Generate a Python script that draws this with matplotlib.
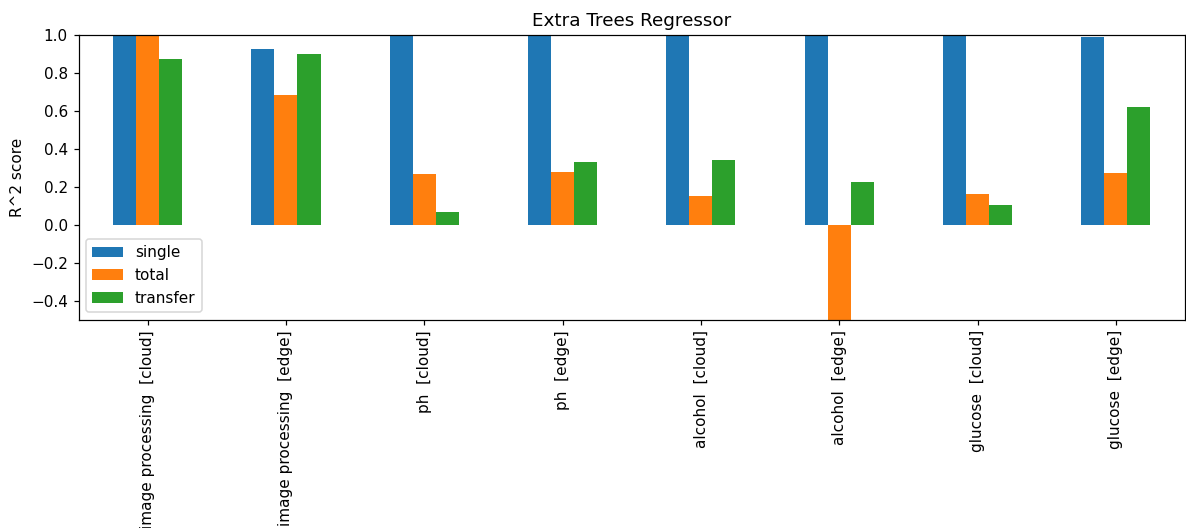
import matplotlib
matplotlib.use("Agg")
import matplotlib.pyplot as plt
import pandas as pd

categories = [
    "image processing  [cloud]",
    "image processing  [edge]",
    "ph  [cloud]",
    "ph  [edge]",
    "alcohol  [cloud]",
    "alcohol  [edge]",
    "glucose  [cloud]",
    "glucose  [edge]",
]
single = [1.0, 0.925, 1.0, 1.0, 1.0, 1.0, 1.0, 0.988]
total = [0.996, 0.683, 0.268, 0.278, 0.152, -0.75, 0.163, 0.273]
transfer = [0.872, 0.898, 0.068, 0.331, 0.342, 0.226, 0.105, 0.620]

df = pd.DataFrame({"single": single, "total": total, "transfer": transfer},
                  index=categories)

W, H, DPI = 1186, 528, 110
fig = plt.figure(figsize=(W / DPI, H / DPI), dpi=DPI)
ax = fig.add_axes([78.5 / W, 1 - 319.5 / H, (1185 - 78.5) / W, (319.5 - 34.7) / H])
df.plot.bar(ax=ax)
ax.set_ylim(-0.5, 1.0)
ax.set_ylabel("R^2 score")
ax.set_title("Extra Trees Regressor")
ax.legend(loc="lower left")

fig.savefig("out.png", dpi=DPI)
